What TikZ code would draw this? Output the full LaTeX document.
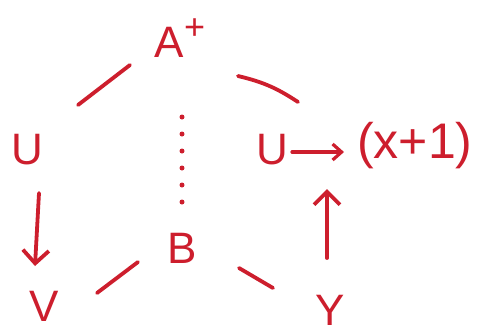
\documentclass[tikz,border=0pt]{standalone}
\usepackage{fontspec}
\setmainfont{Liberation Sans}
\usetikzlibrary{arrows.meta}
\definecolor{ink}{RGB}{205,30,45}
\begin{document}
\begin{tikzpicture}[x=1pt,y=-1pt,
  lbl/.style={text=ink,font=\fontsize{44}{50}\selectfont,inner sep=0pt,anchor=center},
  stroke/.style={draw=ink,line width=3.8pt,line cap=round},
  arr/.style={stroke,-{Straight Barb[length=13pt,width=26pt,line width=3.8pt]}}]
\useasboundingbox (0,0) rectangle (485,333);
\fill[white] (0,0) rectangle (485,333);
% nodes
\node[lbl] (A) at (180,38) {A\raisebox{0.4em}{\fontsize{36}{36}\selectfont +}};
\node[lbl] (U1) at (27,150) {U};
\node[lbl] (U2) at (272,150) {U};
\node[lbl,font=\fontsize{50}{56}\selectfont] (X) at (415,146) {(x+1)};
\node[lbl] (B) at (182,248) {B};
\node[lbl] (V) at (44,306) {V};
\node[lbl] (Y) at (330,310) {Y};
% connector ends
\coordinate (a1) at (78,105);
\coordinate (a2) at (130,65);
\coordinate (c1) at (238,76);
\coordinate (c2) at (298,102);
\coordinate (v1) at (97,293);
\coordinate (v2) at (138,262);
\coordinate (y1) at (239,268);
\coordinate (y2) at (273,288);
\coordinate (d1) at (39,193);
\coordinate (d2) at (35,266);
\coordinate (u1) at (327,258);
\coordinate (u2) at (327,189);
\coordinate (r1) at (292,152);
\coordinate (r2) at (344,152);
\coordinate (p1) at (182,117);
\coordinate (p2) at (182,202);
% connectors
\draw[stroke] (a1) -- (a2);
\draw[stroke] (c1) to[bend left=10] (c2);
\draw[stroke] (v1) -- (v2);
\draw[stroke] (y1) -- (y2);
\draw[arr] (d1) -- (d2);
\draw[arr] (u1) -- (u2);
\draw[draw=ink,line width=3.2pt,line cap=round,-{Straight Barb[length=9pt,width=16pt,line width=3.2pt]}] (r1) -- (r2);
\draw[draw=ink,line width=5pt,line cap=round,dash pattern=on 0pt off 17pt] (p1) -- (p2);
\end{tikzpicture}
\end{document}
